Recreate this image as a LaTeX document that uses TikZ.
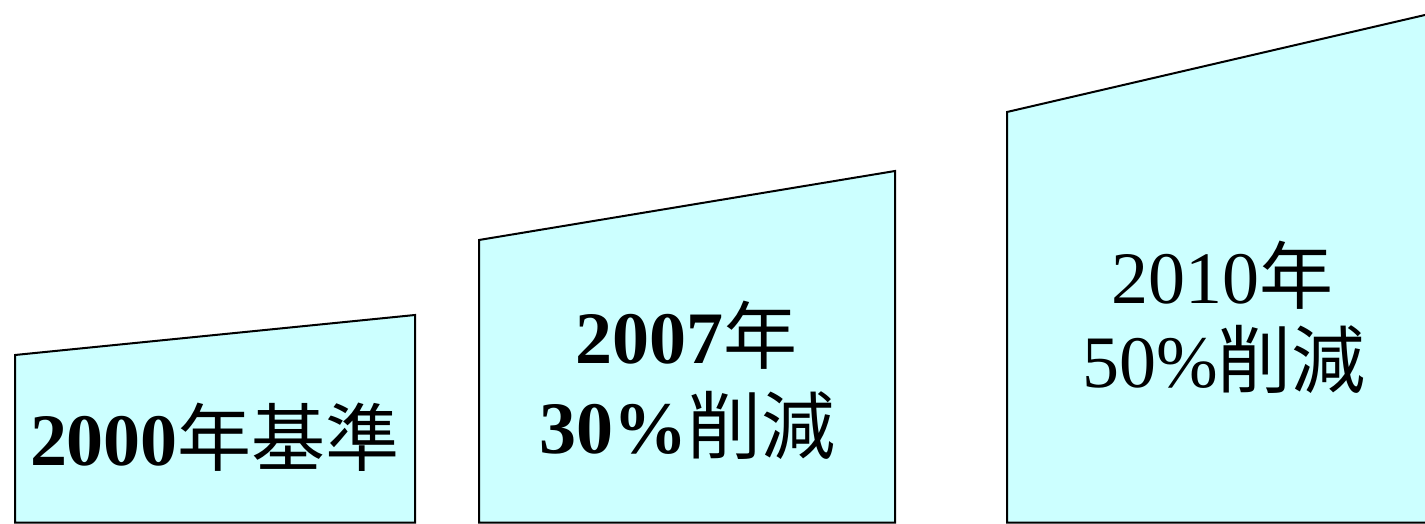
\documentclass[tikz,border=0pt]{standalone}
\usepackage{fontspec}
\setmainfont{Liberation Serif}
\newfontfamily\cjk{Noto Sans CJK JP}
\definecolor{boxfill}{HTML}{CCFFFF}
\tikzset{
  panel/.style={draw=black, line width=2pt, fill=boxfill, line join=miter},
  lbl/.style={anchor=base, inner sep=0pt, font=\fontsize{74}{80}\selectfont}
}
\begin{document}
\begin{tikzpicture}[x=1pt,y=-1pt]
\useasboundingbox (0,0) rectangle (1425,524);
\clip (0,0) rectangle (1425,524);
\draw[panel] (15,522.5) -- (15,355) -- (415,315) -- (415,522.5) -- cycle;
\draw[panel] (479,522.5) -- (479,240) -- (895,171) -- (895,522.5) -- cycle;
\draw[panel] (1007,522.5) -- (1007,112) -- (1440,11.5) -- (1440,522.5) -- cycle;
\node[lbl] (a) at (215,465) {\textbf{2000}{\cjk 年基準}};
\node[lbl] (b1) at (686,363) {\textbf{2007}{\cjk 年}};
\node[lbl] (b2) at (687,453) {\textbf{30\%}{\cjk 削減}};
\node[lbl] (c1) at (1222,303) {2010{\cjk 年}};
\node[lbl] (c2) at (1224,387) {50\%{\cjk 削減}};
\end{tikzpicture}
\end{document}
